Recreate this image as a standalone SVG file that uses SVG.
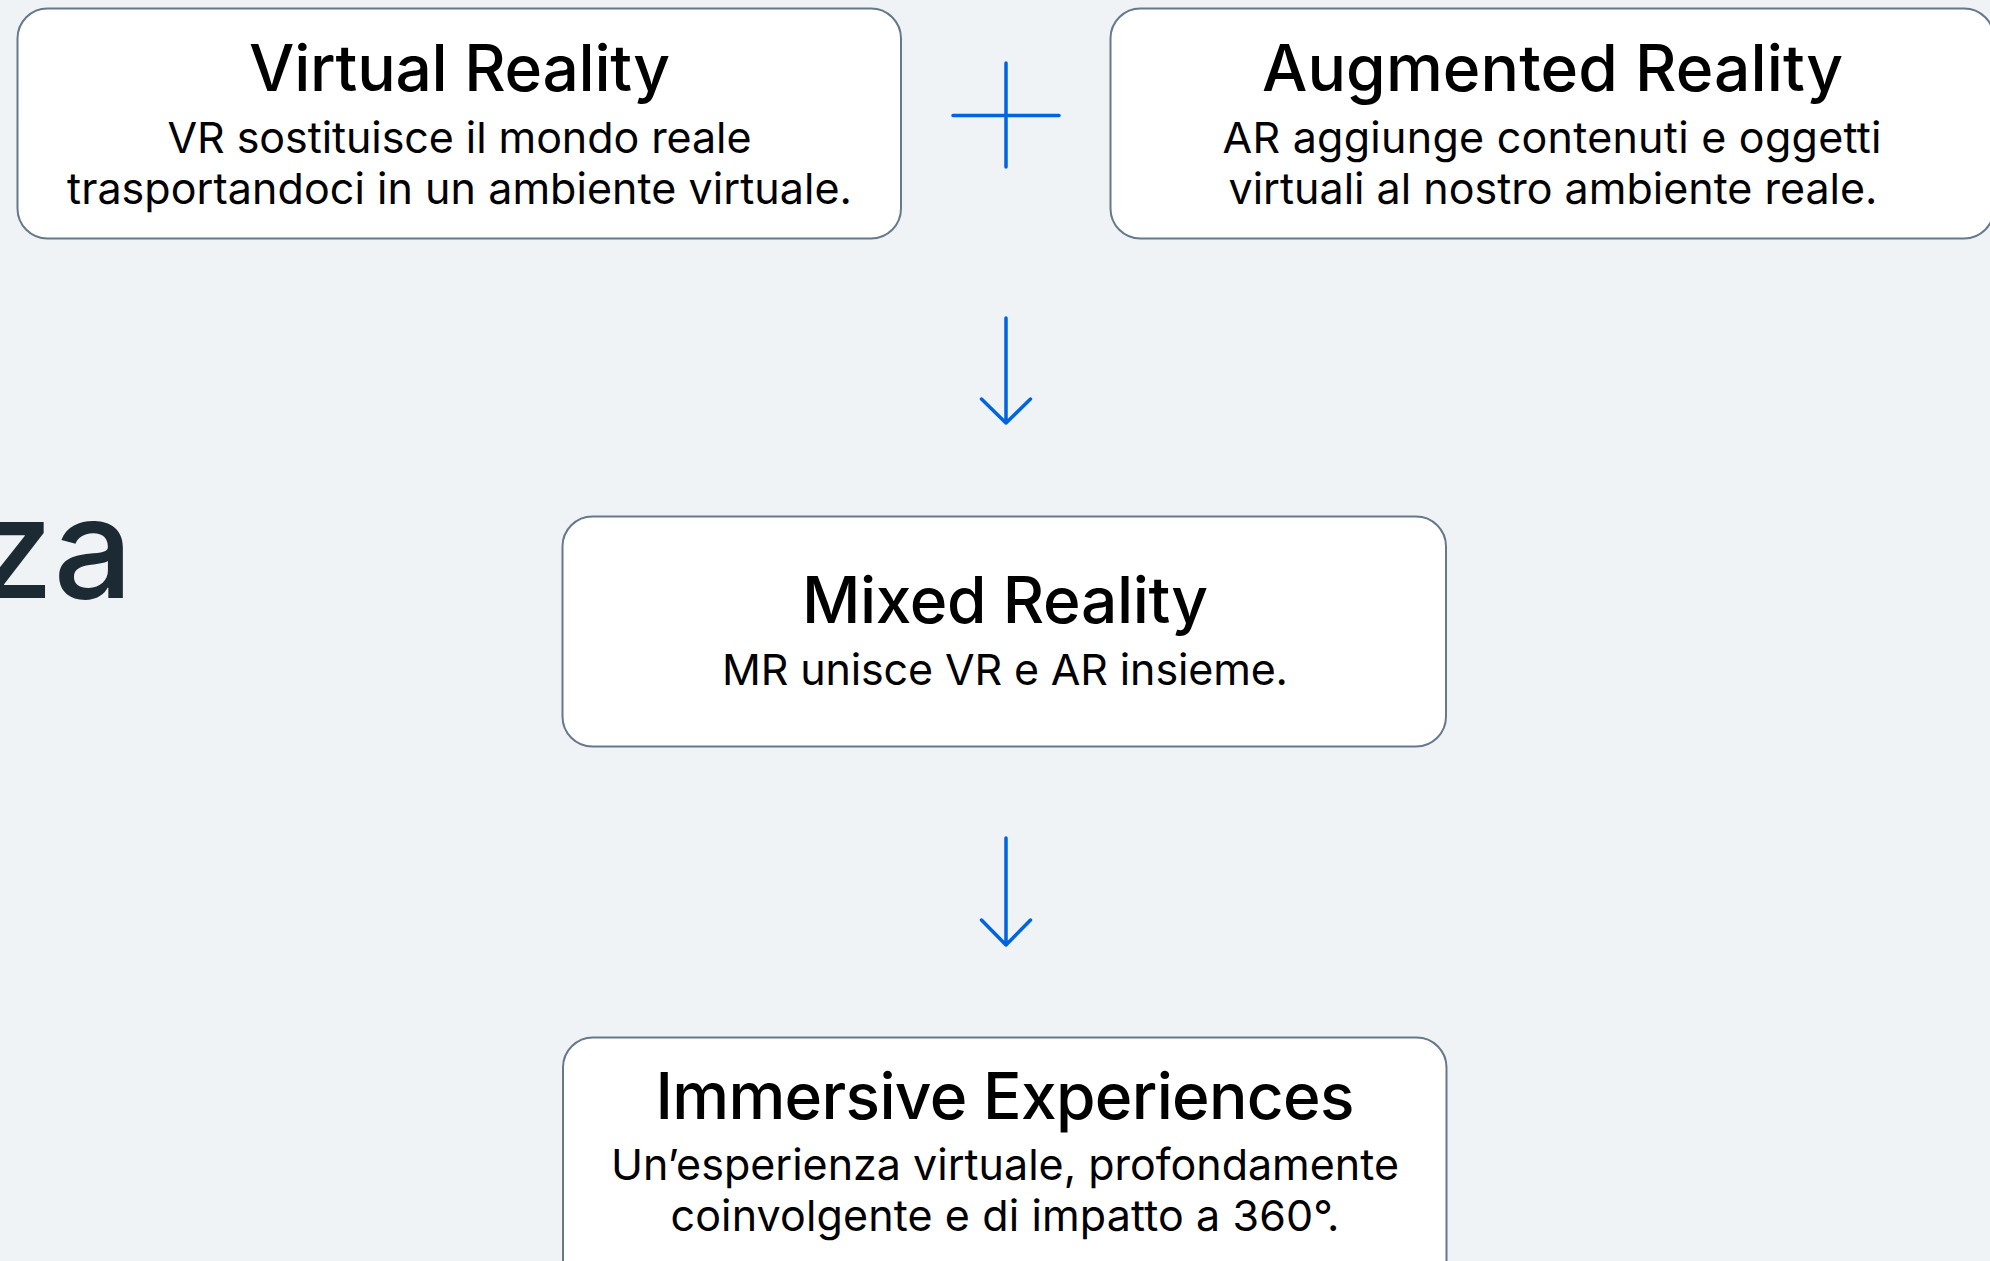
<svg xmlns="http://www.w3.org/2000/svg" width="1990" height="1261" viewBox="0 0 1990 1261">
<style>
.box{fill:#ffffff;stroke:#66788b;stroke-width:2}
.t{font-family:Inter,"Noto Sans","DejaVu Sans",sans-serif;font-size:64px;font-weight:500;fill:#000;text-anchor:middle}
.s{font-family:Inter,"Noto Sans","DejaVu Sans",sans-serif;font-size:43px;font-weight:400;fill:#000;text-anchor:middle}
.big{font-family:Inter,"Noto Sans","DejaVu Sans",sans-serif;font-size:140px;font-weight:500;fill:#1c2b33;text-anchor:end}
.c{stroke:#0064e0;stroke-width:3.5;fill:none;stroke-linecap:round;stroke-linejoin:round}
</style>
<rect width="1990" height="1261" fill="#eff3f6"/>
<text class="big" x="133" y="598">za</text>
<g id="vr">
<rect class="box" x="17.5" y="8.5" width="883.5" height="230" rx="30"/>
<text class="t" x="459.5" y="91" textLength="421">Virtual Reality</text>
<text class="s" x="459.5" y="153" textLength="584">VR sostituisce il mondo reale</text>
<text class="s" x="459.5" y="204" textLength="785">trasportandoci in un ambiente virtuale.</text>
</g>
<g id="ar">
<rect class="box" x="1110.5" y="8.5" width="883.5" height="230" rx="30"/>
<text class="t" x="1552.5" y="91" textLength="581">Augmented Reality</text>
<text class="s" x="1552" y="153" textLength="659">AR aggiunge contenuti e oggetti</text>
<text class="s" x="1553" y="204" textLength="649">virtuali al nostro ambiente reale.</text>
</g>
<g id="mr">
<rect class="box" x="562.5" y="516.5" width="883.5" height="230" rx="30"/>
<text class="t" x="1005" y="623" textLength="406">Mixed Reality</text>
<text class="s" x="1005" y="685" textLength="566">MR unisce VR e AR insieme.</text>
</g>
<g id="ie">
<rect class="box" x="563" y="1037.5" width="883.5" height="260" rx="30"/>
<text class="t" x="1005" y="1119" textLength="699">Immersive Experiences</text>
<text class="s" x="1005" y="1180" textLength="788">Un’esperienza virtuale, profondamente</text>
<text class="s" x="1005" y="1231" textLength="669">coinvolgente e di impatto a 360°.</text>
</g>
<g id="connectors">
<path class="c" d="M1006 63V167M953 115.5H1059"/>
<path class="c" d="M1006 318V423M981.5 399L1006 423L1030.5 399"/>
<path class="c" d="M1006 838V945M981.5 920L1006 945L1030.5 920"/>
</g>
</svg>
